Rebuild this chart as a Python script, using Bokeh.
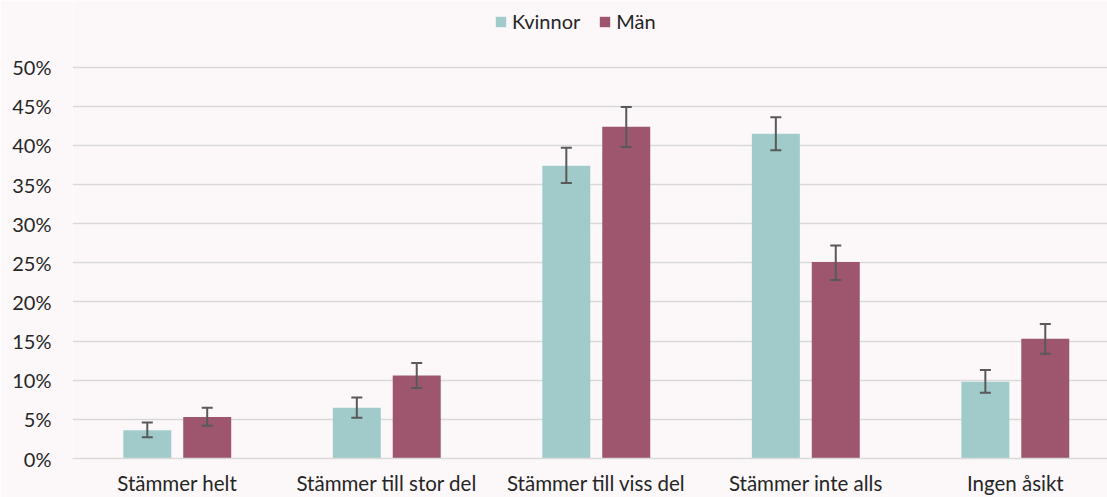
from bokeh.plotting import figure
from bokeh.models import ColumnDataSource, Range1d, FixedTicker, Whisker, TeeHead, Legend, LegendItem
from bokeh.embed import file_html
from bokeh.resources import INLINE

categories = ["Stämmer helt", "Stämmer till stor del", "Stämmer till viss del",
              "Stämmer inte alls", "Ingen åsikt"]
kvinnor = [3.6, 6.5, 37.4, 41.5, 9.8]
kvinnor_low = [2.7, 5.2, 35.2, 39.4, 8.4]
kvinnor_high = [4.6, 7.8, 39.7, 43.6, 11.3]
man = [5.3, 10.6, 42.4, 25.1, 15.3]
man_low = [4.2, 9.0, 39.8, 22.8, 13.4]
man_high = [6.5, 12.2, 44.9, 27.2, 17.2]
y_ticks = [0, 5, 10, 15, 20, 25, 30, 35, 40, 45, 50]
series_names = ["Kvinnor", "Män"]

TEAL = "#A0CBCA"
MAROON = "#9E566F"
BG = "#FCF8F9"
GRID = "#D9D9D9"
FONT = "Lato"

offset = 0.143
bar_w = 0.229
idx = list(range(len(categories)))

src_k = ColumnDataSource(dict(x=[i - offset for i in idx], top=kvinnor,
                              lower=kvinnor_low, upper=kvinnor_high))
src_m = ColumnDataSource(dict(x=[i + offset for i in idx], top=man,
                              lower=man_low, upper=man_high))

# the frame reaches the top of the figure so the legend can sit inside it;
# the 0-50 % scale ends at the same height as in the reference
p = figure(width=1107, height=497, output_backend="svg", toolbar_location=None,
           x_range=Range1d(-0.5, 4.44), y_range=Range1d(0, 58.52),
           min_border_left=72, min_border_right=0, min_border_top=0,
           min_border_bottom=37, background_fill_color=BG, border_fill_color=BG,
           outline_line_color=None)

rk = p.vbar(x="x", top="top", width=bar_w, source=src_k, fill_color=TEAL, line_color=None)
rm = p.vbar(x="x", top="top", width=bar_w, source=src_m, fill_color=MAROON, line_color=None)

for src in (src_k, src_m):
    w = Whisker(base="x", upper="upper", lower="lower", source=src,
                line_color="#595959", line_width=2, level="overlay",
                upper_head=TeeHead(size=11, line_color="#595959", line_width=2),
                lower_head=TeeHead(size=11, line_color="#595959", line_width=2))
    p.add_layout(w)

# y axis
p.yaxis.ticker = FixedTicker(ticks=y_ticks)
p.yaxis.major_label_overrides = {t: f"{t}%" for t in y_ticks}
p.yaxis.axis_line_color = None
p.yaxis.major_tick_line_color = None
p.yaxis.minor_tick_line_color = None
p.yaxis.major_tick_out = 0
p.yaxis.major_tick_in = 0
p.yaxis.minor_tick_out = 0
p.yaxis.major_label_text_font = FONT
p.yaxis.major_label_text_font_size = "20px"
p.yaxis.major_label_text_color = "#262626"
p.yaxis.major_label_standoff = 21

# x axis
p.xaxis.ticker = FixedTicker(ticks=idx)
p.xaxis.major_label_overrides = {i: c for i, c in enumerate(categories)}
p.xaxis.axis_line_color = GRID
p.xaxis.axis_line_width = 1.5
p.xaxis.major_tick_line_color = None
p.xaxis.minor_tick_line_color = None
p.xaxis.major_tick_out = 0
p.xaxis.major_tick_in = 0
p.xaxis.minor_tick_out = 0
p.xaxis.major_label_text_font = FONT
p.xaxis.major_label_text_font_size = "20.5px"
p.xaxis.major_label_text_color = "#262626"
p.xaxis.major_label_standoff = 12

p.xgrid.grid_line_color = None
p.ygrid.ticker = FixedTicker(ticks=y_ticks)
p.ygrid.grid_line_color = GRID
p.ygrid.grid_line_width = 1.5

legend = Legend(items=[LegendItem(label=series_names[0], renderers=[rk]),
                       LegendItem(label=series_names[1], renderers=[rm])],
                orientation="horizontal", location=(422, 425),
                background_fill_alpha=0, border_line_color=None,
                glyph_width=13, glyph_height=13, label_text_font=FONT,
                label_text_font_size="20px", label_text_color="#262626",
                label_standoff=5, spacing=18, padding=0, margin=0)
p.add_layout(legend, "center")

html = file_html(p, INLINE)
html = html.replace("<body>", f'<body style="background:{BG}">', 1)
open("out.html", "w").write(html)
